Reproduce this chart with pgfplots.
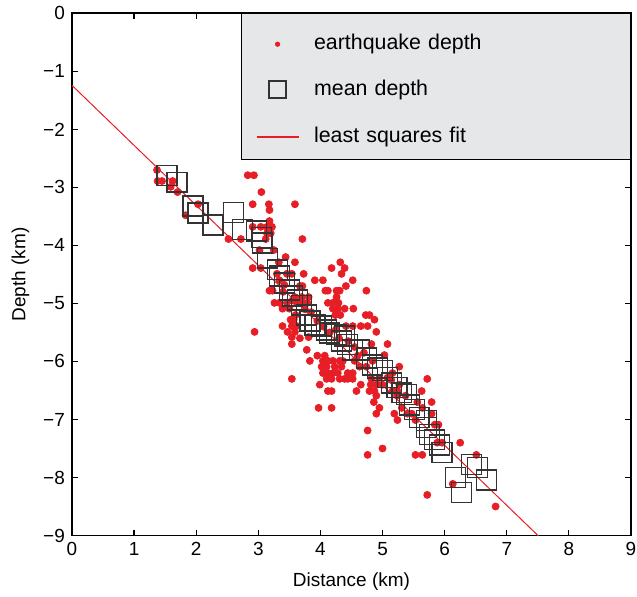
\documentclass[border=0pt]{standalone}
\usepackage{fontspec}
\setmainfont{Liberation Sans}
\usepackage{pgfplots}
\pgfplotsset{compat=1.18}
\definecolor{quake}{RGB}{232,30,38}
\definecolor{legendgray}{RGB}{230,231,232}

\pgfplotstableread{
x y
1.37 -2.70
1.38 -2.89
1.45 -2.89
1.62 -2.89
1.59 -2.99
1.70 -3.08
2.03 -3.29
1.83 -3.48
2.52 -3.89
2.83 -2.79
2.93 -2.79
3.05 -3.08
2.91 -3.29
3.17 -3.29
3.59 -3.29
3.18 -3.39
3.18 -3.58
2.91 -3.68
3.04 -3.68
3.14 -3.68
3.22 -3.68
3.14 -3.79
3.20 -3.79
2.72 -3.89
3.12 -3.89
3.71 -3.89
3.02 -4.08
3.25 -4.08
3.44 -4.20
3.59 -4.29
3.33 -4.29
2.91 -4.39
3.04 -4.39
4.18 -4.39
4.32 -4.29
4.39 -4.39
4.34 -4.49
3.30 -4.49
3.46 -4.49
3.54 -4.49
3.73 -4.49
3.91 -4.60
4.04 -4.60
4.52 -4.60
3.34 -4.60
3.42 -4.68
3.67 -4.70
3.71 -4.70
4.41 -4.70
3.18 -4.78
3.23 -4.78
4.08 -4.78
4.12 -4.78
4.26 -4.78
4.31 -4.78
4.74 -4.78
3.59 -4.89
3.70 -4.89
3.81 -4.89
4.26 -4.89
3.26 -4.99
3.34 -4.99
3.46 -4.99
3.62 -4.99
3.71 -4.99
3.79 -4.99
4.12 -4.99
4.20 -4.99
4.29 -4.99
3.39 -5.09
3.50 -5.09
4.20 -5.09
4.28 -5.09
4.39 -5.09
4.53 -5.09
3.60 -5.20
4.24 -5.20
4.32 -5.20
4.73 -5.20
4.79 -5.20
4.87 -5.28
3.52 -5.28
3.57 -5.28
3.39 -5.39
3.54 -5.39
3.62 -5.39
4.41 -5.39
4.52 -5.39
4.65 -5.39
4.76 -5.39
2.94 -5.49
3.47 -5.49
3.59 -5.49
4.90 -5.49
3.54 -5.58
3.54 -5.70
3.81 -5.58
3.67 -5.60
3.78 -5.80
5.08 -5.70
4.82 -5.70
3.95 -5.90
4.07 -5.90
3.83 -5.99
4.04 -5.99
4.12 -5.99
4.20 -5.99
4.31 -5.99
4.36 -5.99
4.55 -5.99
4.84 -5.99
4.02 -6.09
4.10 -6.09
4.23 -6.09
4.34 -6.09
4.63 -6.09
4.74 -6.09
5.27 -6.09
4.04 -6.20
4.12 -6.20
4.20 -6.20
4.28 -6.20
4.44 -6.20
4.52 -6.20
4.10 -6.30
4.18 -6.30
4.31 -6.30
4.39 -6.30
4.44 -6.30
4.52 -6.30
4.82 -6.30
3.54 -6.30
5.72 -6.30
3.99 -6.40
4.65 -6.40
4.81 -6.40
4.90 -6.40
5.00 -6.40
4.12 -6.51
4.18 -6.51
4.58 -6.51
4.79 -6.51
4.87 -6.51
5.16 -6.51
5.24 -6.51
5.63 -6.51
4.90 -6.59
5.24 -6.59
5.37 -6.59
3.97 -6.80
4.18 -6.80
4.86 -6.70
5.79 -6.70
4.90 -6.90
5.19 -6.90
5.64 -6.80
5.79 -6.90
5.24 -7.01
5.84 -7.09
5.90 -7.09
5.53 -7.01
6.51 -7.61
6.25 -7.40
5.88 -7.40
5.96 -7.40
5.53 -7.61
5.64 -7.61
4.76 -7.61
5.00 -7.50
4.76 -7.19
6.13 -8.11
5.72 -8.30
6.82 -8.50
5.56 -6.70
5.03 -5.89
5.16 -6.20
4.95 -6.28
5.08 -6.28
5.14 -6.32
5.27 -6.40
4.95 -6.80
5.31 -6.80
5.40 -6.90
5.47 -6.90
3.95 -5.30
4.05 -5.40
4.15 -5.50
4.25 -5.45
4.30 -5.60
4.45 -5.65
4.55 -5.75
3.85 -5.15
3.75 -5.10
4.60 -5.90
4.70 -5.85
3.40 -4.80
3.55 -4.95
}\quakes

\pgfplotstableread{
x y
1.53 -2.79
1.69 -2.91
1.95 -3.32
2.03 -3.44
2.27 -3.65
2.60 -3.43
2.75 -3.73
2.97 -3.75
3.05 -3.86
3.07 -3.96
3.15 -4.22
3.31 -4.42
3.34 -4.53
3.42 -4.65
3.50 -4.77
3.55 -4.87
3.63 -4.94
3.70 -5.03
3.78 -5.20
3.83 -5.30
3.91 -5.37
4.02 -5.39
4.10 -5.46
4.15 -5.51
4.26 -5.54
4.39 -5.56
4.34 -5.65
4.44 -5.71
4.52 -5.80
4.63 -5.80
4.74 -5.94
4.84 -6.06
4.92 -6.11
5.00 -6.16
5.08 -6.28
5.14 -6.37
5.23 -6.45
5.31 -6.54
5.39 -6.57
5.43 -6.75
5.51 -6.83
5.59 -6.97
5.71 -7.02
5.71 -7.14
5.76 -7.26
5.84 -7.35
5.92 -7.44
5.96 -7.57
6.17 -8.00
6.27 -8.26
6.43 -7.78
6.53 -7.83
6.67 -8.04
}\means

\begin{document}
\begin{tikzpicture}
\begin{axis}[
  scale only axis, width=280pt, height=261.5pt,
  xmin=0, xmax=9, ymin=-9, ymax=0,
  xtick={0,...,9}, ytick={-9,...,0},
  xticklabels={0,1,2,3,4,5,6,7,8,9},
  yticklabels={−9,−8,−7,−6,−5,−4,−3,−2,−1,0},
  tick align=inside, major tick length=3pt,
  axis line style={line width=0.9pt},
  tick style={line width=0.6pt, black},
  ticklabel style={font=\fontsize{9.5}{11}\selectfont},
  label style={font=\fontsize{9.5}{11}\selectfont},
  xlabel={Distance (km)}, ylabel={Depth (km)},
  x label style={at={(axis description cs:0.5,-0.088)}, anchor=center},
  y label style={at={(axis description cs:-0.092,0.5)}, anchor=center},
  legend style={at={(1,1)}, anchor=north east, fill=legendgray, draw=black,
    font=\fontsize{10.7}{12}\selectfont, inner xsep=7.5pt, inner ysep=8pt,
    row sep=12.25pt, column sep=7.5pt,
    nodes={inner sep=0pt, text width=151pt, text height=10pt, text depth=0.5pt}},
  legend cell align=left,
]
\addplot[only marks, mark=*, mark size=1.75pt, color=quake,
  legend image code/.code={\draw[quake, fill=quake, only marks, mark=*, mark size=1.1pt] plot coordinates {(10.5pt,-2pt)};}]
  table {\quakes};
\addlegendentry{earthquake depth}
\addplot[only marks, mark=square, mark size=5pt, mark options={draw=black!80, line width=0.7pt},
  legend image code/.code={\draw[black!80, line width=0.6pt, only marks, mark=square, mark size=4.25pt] plot coordinates {(10.5pt,-2pt)};}]
  table {\means};
\addlegendentry{mean depth}
\addplot[quake, line width=0.5pt,
  legend image code/.code={\draw[draw=quake, line width=0.6pt] plot coordinates {(0pt,-2pt) (21pt,-2pt)};}]
  coordinates {(0,-1.24) (9,-10.55)};
\addlegendentry{least squares fit}
\end{axis}
\pgfresetboundingbox
\path ([xshift=-2.5pt]current axis.outer south west) rectangle ([xshift=3pt]current axis.north east |- current axis.outer north east);
\end{tikzpicture}
\end{document}
